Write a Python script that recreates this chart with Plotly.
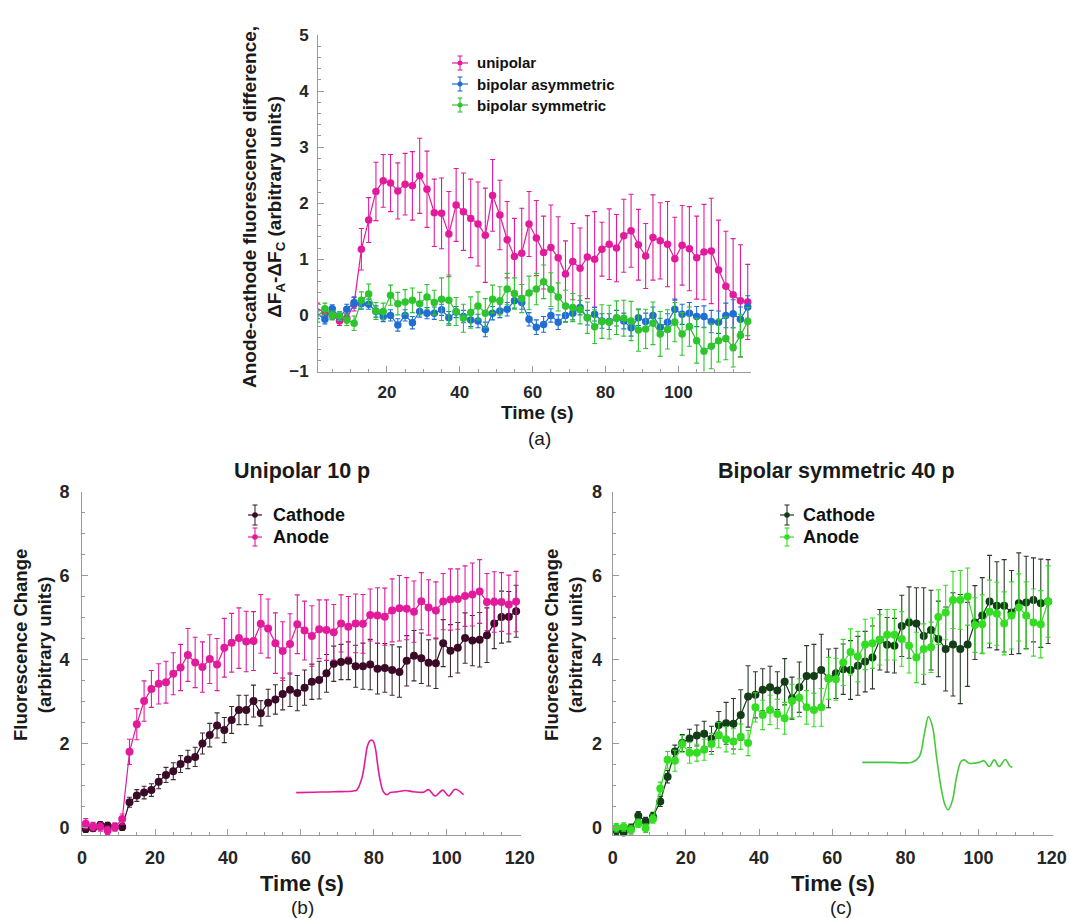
import plotly.graph_objects as go

W, H = 1070, 918
FONT = "Liberation Sans, Arial, Helvetica, sans-serif"

# ---------------- data ----------------
TIME = [1, 3, 5, 7, 9, 11, 13, 15, 17, 19, 21, 23, 25, 27, 29, 31, 33, 35, 37, 39,
        41, 43, 45, 47, 49, 51, 53, 55, 57, 59, 61, 63, 65, 67, 69, 71, 73, 75, 77, 79,
        81, 83, 85, 87, 89, 91, 93, 95, 97, 99, 101, 103, 105, 107, 109, 111, 113, 115, 117, 119]

# panel (a): anode - cathode difference
A_UNI = [0.12, 0.05, 0.0, -0.10, -0.05, 0.20, 1.18, 1.70, 2.21, 2.40, 2.36, 2.22, 2.34, 2.31, 2.49,
         2.25, 1.83, 1.82, 1.45, 1.97, 1.85, 1.73, 1.63, 1.43, 2.14, 1.79, 1.35, 1.05, 1.11, 1.63,
         1.38, 1.12, 1.21, 1.03, 0.74, 0.96, 0.84, 1.04, 1.00, 1.18, 1.27, 1.20, 1.42, 1.51, 1.26,
         1.06, 1.39, 1.33, 1.27, 1.01, 1.25, 1.19, 1.03, 1.13, 1.15, 0.81, 0.52, 0.37, 0.26, 0.24]
A_UNI_ERR = [0.10, 0.08, 0.07, 0.08, 0.08, 0.12, 0.37, 0.40, 0.52, 0.47, 0.51, 0.50, 0.55, 0.61, 0.67,
             0.68, 0.60, 0.63, 0.76, 0.65, 0.69, 0.70, 0.75, 0.84, 0.64, 0.62, 0.68, 0.68, 0.80, 0.58,
             0.67, 0.65, 0.76, 0.73, 0.59, 0.68, 0.72, 0.74, 0.85, 0.48, 0.63, 0.60, 0.65, 0.65, 0.63,
             0.58, 0.76, 0.68, 0.76, 0.74, 0.71, 0.75, 0.74, 0.85, 0.94, 0.89, 0.98, 1.00, 1.00, 0.67]
A_ASYM = [0.02, -0.07, 0.12, -0.02, 0.11, 0.23, 0.21, 0.20, 0.07, -0.02, 0.0, -0.17, 0.0, -0.13, 0.07,
          0.04, 0.04, 0.10, -0.04, 0.06, -0.02, -0.08, -0.10, -0.25, 0.04, 0.08, 0.11, 0.26, 0.23, -0.07,
          -0.21, -0.16, 0.0, -0.12, 0.0, 0.04, 0.14, -0.04, 0.02, -0.10, -0.11, -0.05, -0.10, -0.22, -0.04,
          -0.11, 0.0, -0.21, -0.12, 0.11, 0.02, 0.04, -0.02, -0.02, -0.11, -0.12, 0.0, 0.03, -0.07, 0.15]
A_ASYM_ERR = [0.08, 0.08, 0.07, 0.08, 0.09, 0.10, 0.10, 0.09, 0.10, 0.09, 0.10, 0.11, 0.10, 0.11, 0.10,
              0.10, 0.11, 0.10, 0.11, 0.10, 0.11, 0.12, 0.12, 0.13, 0.12, 0.12, 0.12, 0.13, 0.12, 0.12,
              0.13, 0.14, 0.12, 0.13, 0.12, 0.12, 0.13, 0.13, 0.12, 0.13, 0.14, 0.14, 0.14, 0.15, 0.14,
              0.15, 0.15, 0.16, 0.15, 0.18, 0.18, 0.19, 0.18, 0.19, 0.20, 0.20, 0.22, 0.25, 0.22, 0.20]
A_SYM = [-0.02, 0.12, 0.0, -0.01, -0.08, -0.14, 0.27, 0.38, 0.08, 0.07, 0.36, 0.21, 0.24, 0.27, 0.21,
         0.33, 0.23, 0.29, 0.27, 0.07, -0.05, 0.05, 0.17, 0.04, 0.29, 0.26, 0.47, 0.39, 0.30, 0.40,
         0.47, 0.60, 0.46, 0.33, 0.17, 0.14, 0.10, -0.04, -0.20, -0.11, -0.12, -0.04, -0.05, -0.10, -0.26,
         -0.24, -0.14, -0.33, -0.25, -0.12, -0.33, -0.20, -0.45, -0.64, -0.55, -0.45, -0.41, -0.57, -0.36, -0.11]
A_SYM_ERR = [0.10, 0.10, 0.08, 0.08, 0.10, 0.13, 0.15, 0.18, 0.15, 0.15, 0.18, 0.20, 0.22, 0.22, 0.20,
             0.22, 0.22, 0.38, 0.45, 0.25, 0.25, 0.28, 0.25, 0.26, 0.25, 0.25, 0.28, 0.28, 0.25, 0.30,
             0.28, 0.30, 0.30, 0.25, 0.28, 0.25, 0.25, 0.28, 0.30, 0.30, 0.30, 0.30, 0.32, 0.35, 0.38,
             0.35, 0.38, 0.40, 0.35, 0.35, 0.38, 0.35, 0.40, 0.42, 0.40, 0.38, 0.38, 0.35, 0.38, 0.25]

# panel (b): unipolar 10 p
B_CATH = [-0.03, -0.01, 0.07, 0.05, 0.02, 0.02, 0.61, 0.77, 0.84, 0.90, 1.10, 1.26, 1.35, 1.52, 1.63,
          1.69, 2.01, 2.21, 2.44, 2.33, 2.57, 2.81, 2.81, 3.02, 2.73, 2.98, 3.06, 3.19, 3.29, 3.21,
          3.34, 3.48, 3.52, 3.68, 3.91, 3.95, 3.98, 3.85, 3.85, 3.89, 3.79, 3.81, 3.76, 3.71, 3.98,
          4.10, 4.04, 3.93, 3.92, 4.40, 4.22, 4.29, 4.52, 4.46, 4.48, 4.59, 4.87, 5.02, 5.03, 5.16]
B_CATH_ERR = [0.08, 0.07, 0.08, 0.08, 0.07, 0.08, 0.12, 0.14, 0.15, 0.15, 0.17, 0.18, 0.20, 0.20, 0.22,
              0.23, 0.25, 0.28, 0.30, 0.30, 0.32, 0.35, 0.35, 0.38, 0.30, 0.32, 0.35, 0.38, 0.40, 0.42,
              0.42, 0.42, 0.45, 0.45, 0.42, 0.42, 0.45, 0.50, 0.55, 0.60, 0.60, 0.58, 0.60, 0.60, 0.60,
              0.60, 0.60, 0.55, 0.60, 0.56, 0.62, 0.60, 0.60, 0.60, 0.65, 0.65, 0.60, 0.62, 0.60, 0.62]
B_ANODE = [0.10, 0.03, 0.02, -0.06, 0.02, 0.21, 1.81, 2.47, 3.02, 3.31, 3.43, 3.47, 3.67, 3.82, 4.12,
           3.94, 3.83, 4.02, 3.89, 4.29, 4.41, 4.52, 4.44, 4.45, 4.86, 4.75, 4.40, 4.21, 4.38, 4.85,
           4.70, 4.57, 4.73, 4.71, 4.66, 4.87, 4.79, 4.87, 4.86, 5.07, 5.06, 5.03, 5.18, 5.23, 5.22,
           5.15, 5.40, 5.25, 5.18, 5.39, 5.44, 5.45, 5.52, 5.56, 5.63, 5.38, 5.38, 5.38, 5.32, 5.39]
B_ANODE_ERR = [0.12, 0.10, 0.10, 0.10, 0.10, 0.12, 0.30, 0.37, 0.48, 0.44, 0.48, 0.50, 0.50, 0.55, 0.63,
               0.60, 0.60, 0.58, 0.62, 0.70, 0.70, 0.72, 0.72, 0.70, 0.70, 0.70, 0.72, 0.70, 0.72, 0.70,
               0.70, 0.72, 0.70, 0.72, 0.66, 0.68, 0.72, 0.70, 0.70, 0.62, 0.66, 0.68, 0.75, 0.78, 0.74,
               0.73, 0.68, 0.66, 0.68, 0.67, 0.73, 0.72, 0.72, 0.75, 0.76, 0.68, 0.72, 0.70, 0.70, 0.72]

# panel (c): bipolar symmetric 40 p
C_CATH = [-0.06, -0.11, -0.01, 0.29, 0.15, 0.27, 0.63, 1.22, 1.82, 2.02, 2.13, 2.20, 2.24, 2.12, 2.45,
          2.49, 2.48, 2.69, 3.13, 3.17, 3.29, 3.35, 3.27, 3.48, 3.09, 3.35, 3.62, 3.62, 3.76, 3.56,
          3.68, 3.78, 3.76, 3.86, 3.96, 4.06, 4.48, 4.36, 4.34, 4.81, 4.89, 4.87, 4.57, 4.71, 4.50,
          4.26, 4.37, 4.26, 4.37, 4.89, 5.06, 5.39, 5.29, 5.29, 5.13, 5.35, 5.37, 5.43, 5.35, 5.39]
C_CATH_ERR = [0.10, 0.09, 0.10, 0.10, 0.10, 0.10, 0.12, 0.15, 0.15, 0.20, 0.22, 0.25, 0.30, 0.30, 0.32,
              0.50, 0.60, 0.60, 0.73, 0.55, 0.50, 0.50, 0.45, 0.55, 0.50, 0.60, 0.72, 0.75, 0.85, 0.70,
              0.60, 0.60, 0.70, 0.70, 0.72, 0.75, 0.72, 0.65, 0.65, 0.73, 0.85, 0.85, 1.15, 0.95, 0.90,
              1.00, 1.23, 1.30, 1.00, 0.88, 0.90, 1.10, 1.05, 1.10, 1.00, 1.20, 1.10, 1.00, 1.05, 1.00]
C_ANODE = [0.0, 0.02, -0.05, 0.11, -0.01, 0.21, 0.94, 1.62, 1.60, 2.00, 1.79, 1.79, 1.86, 2.00, 2.21,
           2.11, 2.06, 2.17, 2.02, 2.87, 2.69, 2.81, 2.71, 2.61, 3.02, 3.10, 2.87, 2.81, 2.87, 3.56,
           3.54, 3.94, 4.19, 4.08, 4.37, 4.40, 4.48, 4.60, 4.60, 4.50, 4.34, 4.06, 4.26, 4.30, 5.02,
           5.13, 5.43, 5.43, 5.51, 4.83, 4.85, 5.15, 5.10, 4.87, 5.06, 5.25, 5.06, 4.89, 4.85, 5.39]
C_ANODE_ERR = [0.10, 0.10, 0.10, 0.10, 0.10, 0.10, 0.15, 0.20, 0.25, 0.20, 0.25, 0.20, 0.25, 0.25, 0.30,
               0.30, 0.30, 0.30, 0.30, 0.35, 0.35, 0.35, 0.35, 0.38, 0.40, 0.45, 0.40, 0.40, 0.45, 0.50,
               0.50, 0.55, 0.55, 0.60, 0.60, 0.60, 0.60, 0.60, 0.60, 0.65, 0.65, 0.60, 0.60, 0.60, 0.65,
               0.65, 0.68, 0.70, 0.68, 0.65, 0.70, 0.75, 0.75, 0.75, 0.80, 0.80, 0.80, 0.80, 0.80, 0.85]

# inset stimulus waveforms (drawn in data coordinates of each panel)
WAVE_B_X = [58.7, 63.5, 68.9, 74.4, 75.3, 76.7, 77.6, 78.2, 79.0, 79.7, 80.4, 81.1, 81.7, 82.6, 83.6,
            84.5, 86.5, 88.6, 90.9, 93.6, 95.0, 96.8, 98.9, 100.5, 102.3, 104.6]
WAVE_B_Y = [0.84, 0.85, 0.86, 0.88, 0.90, 1.18, 1.62, 1.94, 2.08, 2.08, 1.90, 1.46, 1.14, 0.86, 0.79,
            0.84, 0.86, 0.89, 0.86, 0.85, 0.91, 0.76, 0.90, 0.76, 0.92, 0.79]
WAVE_C_X = [68.2, 75.0, 82.0, 83.8, 85.2, 86.3, 87.4, 88.5, 89.7, 90.8, 91.7, 92.9, 94.0, 95.2, 96.1,
            97.4, 100.2, 101.5, 102.9, 104.3, 105.6, 107.3, 108.5, 109.2]
WAVE_C_Y = [1.56, 1.56, 1.57, 1.70, 2.25, 2.65, 2.41, 1.70, 0.98, 0.55, 0.43, 0.67, 1.22, 1.58, 1.62,
            1.54, 1.56, 1.60, 1.46, 1.62, 1.46, 1.63, 1.48, 1.44]

LEGEND_A = ["unipolar", "bipolar asymmetric", "bipolar symmetric"]
LEGEND_BC = ["Cathode", "Anode"]

PINK = "#E21B9C"
BLUE = "#1F6ED4"
GREEN_A = "#2EC42E"
DARK_B = "#3A0A26"
DARK_C = "#133D16"
LIGHT_C = "#33DD22"


def px(x):
    return x / W


def py(y):
    return 1 - y / H


fig = go.Figure()


def add_series(x, y, err, color, name, xa, ya, msize=7.5, errcolor=None):
    fig.add_trace(go.Scatter(
        x=x, y=y, name=name, mode="lines+markers",
        line=dict(color=color, width=1.2),
        marker=dict(color=color, size=msize),
        error_y=dict(type="data", array=err, visible=True, color=errcolor or color,
                     thickness=1.1, width=2.5),
        xaxis=xa, yaxis=ya, showlegend=False, cliponaxis=False,
    ))


add_series(TIME, A_UNI, A_UNI_ERR, PINK, LEGEND_A[0], "x", "y")
add_series(TIME, A_ASYM, A_ASYM_ERR, BLUE, LEGEND_A[1], "x", "y")
add_series(TIME, A_SYM, A_SYM_ERR, GREEN_A, LEGEND_A[2], "x", "y")

add_series(TIME, B_CATH, B_CATH_ERR, DARK_B, LEGEND_BC[0], "x2", "y2", 8, "#3f2b35")
add_series(TIME, B_ANODE, B_ANODE_ERR, PINK, LEGEND_BC[1], "x2", "y2", 8)

add_series(TIME, C_CATH, C_CATH_ERR, DARK_C, LEGEND_BC[0], "x3", "y3", 8, "#2a3a2b")
add_series(TIME, C_ANODE, C_ANODE_ERR, LIGHT_C, LEGEND_BC[1], "x3", "y3", 8)

fig.add_trace(go.Scatter(x=WAVE_B_X, y=WAVE_B_Y, mode="lines", line=dict(color=PINK, width=1.6, shape="spline"),
                         xaxis="x2", yaxis="y2", showlegend=False, hoverinfo="skip"))
fig.add_trace(go.Scatter(x=WAVE_C_X, y=WAVE_C_Y, mode="lines", line=dict(color="#45C83A", width=1.6, shape="spline"),
                         xaxis="x3", yaxis="y3", showlegend=False, hoverinfo="skip"))

AXC = "#9a9a9a"


def axis(domain, rng, dtick, minor, anchor, size, standoff):
    return dict(
        domain=domain, range=rng, dtick=dtick, tick0=0, anchor=anchor, automargin=False,
        showline=True, linecolor=AXC, linewidth=1, mirror=False,
        ticks="inside", ticklen=6, tickwidth=1, tickcolor=AXC,
        minor=dict(ticks="inside", ticklen=3, dtick=minor, tickcolor=AXC, tickwidth=1),
        showgrid=False, zeroline=False, ticklabelstandoff=standoff,
        tickfont=dict(family=FONT, size=size, color="#262626", weight="bold"),
    )


fig.update_layout(
    width=W, height=H, margin=dict(l=0, r=0, t=0, b=0, pad=0, autoexpand=False),
    paper_bgcolor="white", plot_bgcolor="white", showlegend=False,
    xaxis=axis([px(318), px(751)], [1.1, 119.9], 20, 5, "y", 17, 5),
    yaxis=axis([py(371.5), py(35)], [-1, 5], 1, 0.2, "x", 17, 5),
    xaxis2=axis([px(82.1), px(520.5)], [0, 120.2], 20, 5, "y2", 18, 6),
    yaxis2=axis([py(835), py(492)], [-0.17, 8], 2, 0.5, "x2", 18, 8),
    xaxis3=axis([px(612.7), px(1052.5)], [0, 120.2], 20, 5, "y3", 18, 6),
    yaxis3=axis([py(835), py(492)], [-0.17, 8], 2, 0.5, "x3", 18, 6),
)


def note(text, x, y, size, bold=True, angle=0, color="#1a1a1a", xanchor="center"):
    fig.add_annotation(text=text, x=px(x), y=py(y), xref="paper", yref="paper",
                       showarrow=False, textangle=angle, xanchor=xanchor, yanchor="middle",
                       font=dict(family=FONT, size=size, color=color, weight="bold" if bold else "normal"))


def legend_entry(label, color, cx, cy, text_x, size, half_w, half_h, dot_r, errcolor=None):
    ec = errcolor or color
    # horizontal line through the glyph
    fig.add_shape(type="line", xref="paper", yref="paper", x0=px(cx - half_w), x1=px(cx + half_w),
                  y0=py(cy), y1=py(cy), line=dict(color=color, width=1.2))
    # vertical error bar with caps
    fig.add_shape(type="line", xref="paper", yref="paper", x0=px(cx), x1=px(cx),
                  y0=py(cy - half_h), y1=py(cy + half_h), line=dict(color=ec, width=1.1))
    for dy in (-half_h, half_h):
        fig.add_shape(type="line", xref="paper", yref="paper", x0=px(cx - 2.5), x1=px(cx + 2.5),
                      y0=py(cy + dy), y1=py(cy + dy), line=dict(color=ec, width=1.1))
    fig.add_shape(type="circle", xref="paper", yref="paper", x0=px(cx - dot_r), x1=px(cx + dot_r),
                  y0=py(cy - dot_r), y1=py(cy + dot_r), fillcolor=color, line=dict(color=color, width=0))
    note(label, text_x, cy, size, xanchor="left", color="#111")


# legends (drawn as glyph + text)
legend_entry(LEGEND_A[0], PINK, 460, 63, 475, 15, 8, 7, 2.5)
legend_entry(LEGEND_A[1], BLUE, 460, 84, 475, 15, 8, 7, 2.5)
legend_entry(LEGEND_A[2], GREEN_A, 460, 105, 475, 15, 8, 7, 2.5)

legend_entry(LEGEND_BC[0], DARK_B, 255, 515, 271, 18, 7, 10, 2.8, "#3f2b35")
legend_entry(LEGEND_BC[1], PINK, 255, 537, 271, 18, 7, 9, 2.8)

legend_entry(LEGEND_BC[0], DARK_C, 787, 515, 801, 18, 7, 10, 2.8, "#2a3a2b")
legend_entry(LEGEND_BC[1], LIGHT_C, 787, 537, 801, 18, 7, 9, 2.8)

# panel (a) texts
note("Anode-cathode fluorescence difference,<br>ΔF<sub>A</sub>-ΔF<sub>C</sub> (arbitrary units)",
     264, 207, 19, angle=-90)
note("Time (s)", 537, 412, 19)
note("(a)", 539, 439, 19, bold=False)

# panel (b) texts
note("Unipolar 10 p", 302, 471, 21.5)
note("Fluorescence Change<br>(arbitrary units)", 32, 645, 18.5, angle=-90)
note("Time (s)", 302, 883, 22)
note("(b)", 302, 907, 19, bold=False)

# panel (c) texts
note("Bipolar symmetric 40 p", 836, 471, 21.5)
note("Fluorescence Change<br>(arbitrary units)", 563, 645, 18.5, angle=-90)
note("Time (s)", 833, 883, 22)
note("(c)", 841, 907, 19, bold=False)

fig.write_html("out.html")
